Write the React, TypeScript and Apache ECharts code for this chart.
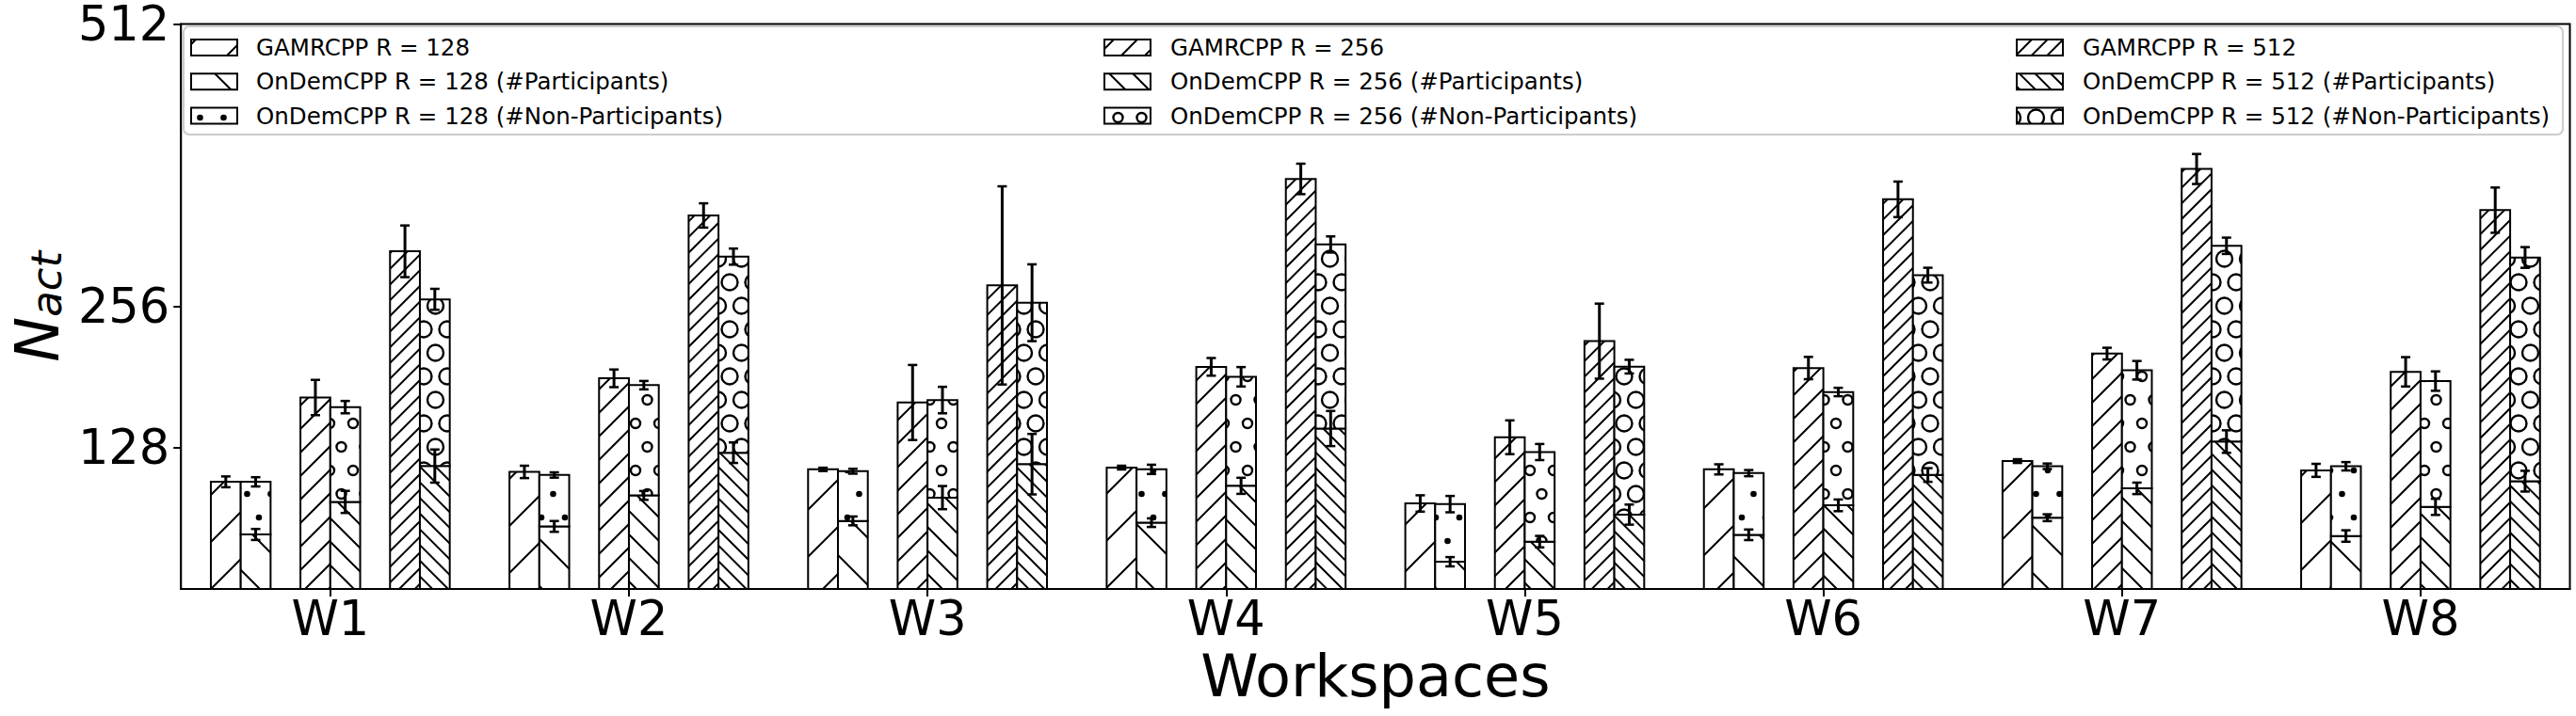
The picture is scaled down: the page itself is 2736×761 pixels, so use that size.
import React, { useEffect, useRef } from 'react';
import * as echarts from 'echarts';

// ---------------- data ----------------
const categories = ['W1', 'W2', 'W3', 'W4', 'W5', 'W6', 'W7', 'W8'];
const yTickValues = [128, 256, 512];

// GAMRCPP
const gam128 = [97.1, 106.1, 108.4, 110.0, 77.5, 108.4, 115.9, 107.5];
const gam128Err = [4.9, 5.6, 1.5, 1.7, 7.4, 4.6, 1.7, 5.9];
const gam256 = [173.5, 190.9, 169.0, 201.3, 137.5, 200.2, 213.3, 196.8];
const gam256Err = [16.0, 8.0, 34.0, 8.0, 15.3, 10.1, 5.3, 13.3];
const gam512 = [306.0, 338.5, 275.1, 371.6, 224.6, 353.1, 380.6, 343.3];
const gam512Err = [23.4, 11.0, 89.8, 13.8, 34.0, 16.1, 13.6, 20.5];

// OnDemCPP participants
const part128 = [49.4, 56.7, 61.7, 60.1, 24.7, 49.1, 64.6, 48.0];
const part128Err = [5.0, 4.9, 4.0, 3.9, 4.2, 4.8, 3.1, 5.2];
const part256 = [78.9, 84.8, 82.8, 93.5, 42.9, 75.8, 91.2, 74.4];
const part256Err = [10.0, 4.0, 10.5, 7.3, 5.2, 5.3, 5.2, 7.3];
const part512 = [111.4, 123.5, 113.1, 145.4, 67.4, 103.3, 133.6, 97.7];
const part512Err = [15.0, 9.3, 27.4, 15.9, 9.1, 6.2, 10.2, 9.4];

// OnDemCPP non-participants (stacked on top of participants)
const nonPart128 = [47.7, 46.6, 45.0, 48.3, 52.2, 55.9, 46.6, 63.2];
const nonPart128Err = [4.2, 2.4, 2.2, 4.2, 7.4, 2.8, 2.5, 3.8];
const nonPart256 = [85.9, 99.9, 88.4, 98.8, 81.2, 102.7, 107.0, 114.0];
const nonPart256Err = [5.6, 3.8, 12.0, 8.8, 7.3, 3.8, 8.4, 8.8];
const nonPart512 = [151.1, 177.7, 146.3, 166.8, 134.1, 181.1, 177.4, 202.7];
const nonPart512Err = [9.5, 7.3, 34.8, 7.3, 6.2, 6.7, 7.4, 9.4];

const legendLabels = [
  ['GAMRCPP R = 128', 'OnDemCPP R = 128 (#Participants)', 'OnDemCPP R = 128 (#Non-Participants)'],
  ['GAMRCPP R = 256', 'OnDemCPP R = 256 (#Participants)', 'OnDemCPP R = 256 (#Non-Participants)'],
  ['GAMRCPP R = 512', 'OnDemCPP R = 512 (#Participants)', 'OnDemCPP R = 512 (#Non-Participants)'],
];

const FONT = '"DejaVu Sans", "Liberation Sans", sans-serif';

// ---------------- patterns ----------------
function hatchPattern(dir: number, n: number) {
  const T = 50;
  const c = document.createElement('canvas');
  c.width = T;
  c.height = T;
  const g = c.getContext('2d')!;
  g.fillStyle = '#fff';
  g.fillRect(0, 0, T, T);
  g.strokeStyle = '#000';
  g.lineWidth = 2;
  const s = T / n;
  g.beginPath();
  for (let j = -n; j <= 2 * n; j++) {
    const k = j * s;
    if (dir === 1) {
      g.moveTo(k + 3, -3);
      g.lineTo(k - T - 3, T + 3);
    } else {
      g.moveTo(k - 3, -3);
      g.lineTo(k + T + 3, T + 3);
    }
  }
  g.stroke();
  return { image: c, repeat: 'repeat', imageWidth: T, imageHeight: T };
}

function circlePattern(r: number, filled: boolean) {
  const P = 25;
  const c = document.createElement('canvas');
  c.width = P;
  c.height = 2 * P;
  const g = c.getContext('2d')!;
  g.fillStyle = '#fff';
  g.fillRect(0, 0, P, 2 * P);
  const pts = [
    [0, 0], [P, 0], [0, 2 * P], [P, 2 * P], [P / 2, P],
  ];
  g.strokeStyle = '#000';
  g.fillStyle = '#000';
  g.lineWidth = 2.4;
  for (const [x, y] of pts) {
    g.beginPath();
    g.arc(x, y, r, 0, Math.PI * 2);
    if (filled) g.fill();
    else g.stroke();
  }
  return { image: c, repeat: 'repeat', imageWidth: P, imageHeight: 2 * P };
}

const BAR_W = 0.1;

export default function App() {
  const ref = useRef<HTMLDivElement>(null);

  useEffect(() => {
    if (!ref.current) return;
    const chart = echarts.init(ref.current, undefined, { renderer: 'svg' });

    const pG = [hatchPattern(1, 1), hatchPattern(1, 2), hatchPattern(1, 3)];
    const pP = [hatchPattern(-1, 1), hatchPattern(-1, 2), hatchPattern(-1, 3)];
    const pN = [circlePattern(3.3, true), circlePattern(5, false), circlePattern(8.5, false)];

    const barSeries = (name: string, lo: number[], hi: number[], offset: number, fill: any) => ({
      type: 'custom',
      name,
      z: 2,
      encode: { x: 0, y: [1, 2] },
      data: categories.map((_, i) => [i, lo[i], hi[i]]),
      renderItem: (_p: any, api: any) => {
        const cat = api.value(0);
        const a = api.coord([cat, api.value(1)]);
        const b = api.coord([cat, api.value(2)]);
        const bw = api.size([1, 0])[0];
        const w = bw * BAR_W;
        const cx = a[0] + offset * bw;
        return {
          type: 'rect',
          shape: { x: cx - w / 2, y: b[1], width: w, height: a[1] - b[1] },
          style: { fill, stroke: '#000', lineWidth: 2 },
        };
      },
    });

    const errSeries = (name: string, center: number[], err: number[], offset: number) => ({
      type: 'custom',
      name,
      z: 5,
      encode: { x: 0, y: 1 },
      data: categories.map((_, i) => [i, center[i], err[i]]),
      renderItem: (_p: any, api: any) => {
        const cat = api.value(0);
        const v = api.value(1);
        const e = api.value(2);
        const bw = api.size([1, 0])[0];
        const t = api.coord([cat, v + e]);
        const bt = api.coord([cat, v - e]);
        const x = t[0] + offset * bw;
        const cap = 5;
        return {
          type: 'group',
          children: [
            { type: 'line', shape: { x1: x, y1: t[1], x2: x, y2: bt[1] }, style: { stroke: '#000', lineWidth: 3 } },
            { type: 'line', shape: { x1: x - cap, y1: t[1], x2: x + cap, y2: t[1] }, style: { stroke: '#000', lineWidth: 2.5 } },
            { type: 'line', shape: { x1: x - cap, y1: bt[1], x2: x + cap, y2: bt[1] }, style: { stroke: '#000', lineWidth: 2.5 } },
          ],
        };
      },
    });

    const zeros = categories.map(() => 0);
    const groups = [
      { g: gam128, ge: gam128Err, p: part128, pe: part128Err, n: nonPart128, ne: nonPart128Err, og: -0.35, oo: -0.25 },
      { g: gam256, ge: gam256Err, p: part256, pe: part256Err, n: nonPart256, ne: nonPart256Err, og: -0.05, oo: 0.05 },
      { g: gam512, ge: gam512Err, p: part512, pe: part512Err, n: nonPart512, ne: nonPart512Err, og: 0.25, oo: 0.35 },
    ];

    const series: any[] = [];
    groups.forEach((gr, k) => {
      const tops = gr.p.map((v, i) => v + gr.n[i]);
      series.push(barSeries(legendLabels[k][0], zeros, gr.g, gr.og, pG[k]));
      series.push(barSeries(legendLabels[k][1], zeros, gr.p, gr.oo, pP[k]));
      series.push(barSeries(legendLabels[k][2], gr.p, tops, gr.oo, pN[k]));
    });
    groups.forEach((gr, k) => {
      const tops = gr.p.map((v, i) => v + gr.n[i]);
      series.push(errSeries('err g' + k, gr.g, gr.ge, gr.og));
      series.push(errSeries('err p' + k, gr.p, gr.pe, gr.oo));
      series.push(errSeries('err n' + k, tops, gr.ne, gr.oo));
    });

    // manual legend
    const colX = [203, 1173, 2142];
    const textX = [272, 1243, 2212];
    const rowY = [50.5, 86.8, 123];
    const fills = [pG, pP, pN];
    const legendEls: any[] = [
      {
        type: 'rect',
        shape: { x: 195, y: 28, width: 2527, height: 115, r: 6 },
        style: { fill: 'rgba(255,255,255,0.8)', stroke: '#cccccc', lineWidth: 2 },
        z: 10,
      },
    ];
    for (let c = 0; c < 3; c++) {
      for (let r = 0; r < 3; r++) {
        legendEls.push({
          type: 'rect',
          shape: { x: colX[c], y: rowY[r] - 8.5, width: 49, height: 17 },
          style: { fill: fills[r][c], stroke: '#000', lineWidth: 2 },
          z: 11,
        });
        legendEls.push({
          type: 'text',
          x: textX[c],
          y: rowY[r],
          style: {
            text: legendLabels[c][r],
            fill: '#000',
            fontSize: 24.5,
            fontFamily: FONT,
            align: 'left',
            verticalAlign: 'middle',
          },
          z: 11,
        });
      }
    }

    chart.setOption({
      animation: false,
      backgroundColor: '#fff',
      grid: {
        left: 181.7,
        right: 6.5,
        top: 17,
        bottom: 135,
        show: true,
        borderColor: '#000',
        borderWidth: 2,
        backgroundColor: 'transparent',
      },
      xAxis: {
        type: 'category',
        data: categories,
        boundaryGap: true,
        axisLine: { show: true, lineStyle: { color: '#000', width: 2 } },
        axisTick: { show: true, alignWithLabel: true, length: 8, lineStyle: { color: '#000', width: 2 } },
        axisLabel: { color: '#000', fontSize: 51, fontFamily: FONT, margin: 6 },
        name: 'Workspaces',
        nameLocation: 'middle',
        nameGap: 60,
        nameTextStyle: { color: '#000', fontSize: 62, fontFamily: FONT },
      },
      yAxis: {
        type: 'value',
        min: 0,
        max: 512,
        interval: 128,
        splitLine: { show: false },
        axisLine: { show: true, lineStyle: { color: '#000', width: 2 } },
        axisTick: { show: true, length: 8, lineStyle: { color: '#000', width: 2 }, customValues: yTickValues },
        axisLabel: {
          color: '#000',
          fontSize: 51,
          lineHeight: 34,
          fontFamily: FONT,
          margin: 12,
          customValues: yTickValues,
        },
        name: '{n|N}{s|act}',
        nameLocation: 'middle',
        nameRotate: 90,
        nameGap: 120,
        nameTextStyle: {
          rich: {
            n: { fontSize: 64, fontStyle: 'italic', fontFamily: FONT, color: '#000', lineHeight: 64, verticalAlign: 'bottom' },
            s: { fontSize: 45, fontStyle: 'italic', fontFamily: FONT, color: '#000', lineHeight: 10, verticalAlign: 'bottom' },
          },
        },
      },
      series,
      graphic: { elements: legendEls },
    });

    return () => chart.dispose();
  }, []);

  return (
    <div
      ref={ref}
      style={{ position: 'absolute', left: 0, top: 0, width: 2736, height: 761, background: '#fff' }}
    />
  );
}
